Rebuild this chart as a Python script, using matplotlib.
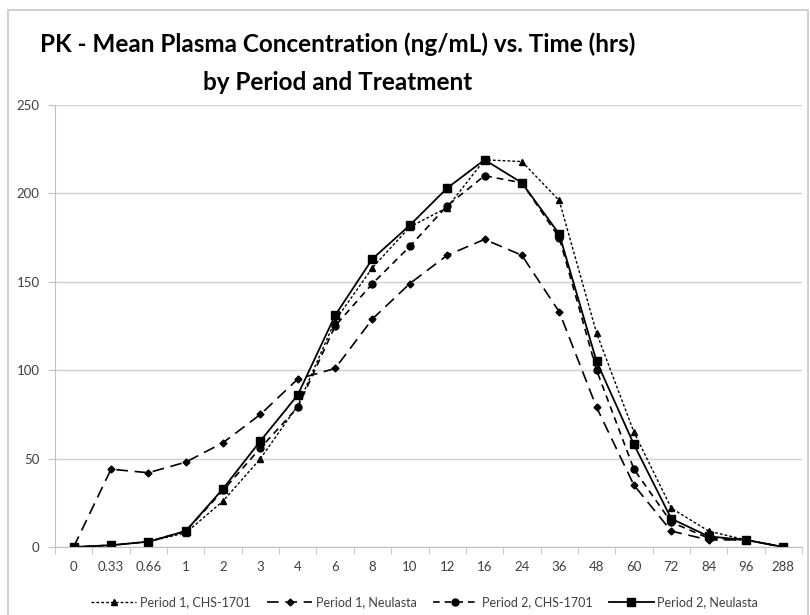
import matplotlib.pyplot as plt
import numpy as np
from matplotlib.patches import Rectangle

times = ['0', '0.33', '0.66', '1', '2', '3', '4', '6', '8', '10', '12', '16',
         '24', '36', '48', '60', '72', '84', '96', '288']
p1_chs = [0, 1, 3, 8, 26, 50, 80, 128, 158, 181, 192, 219, 218, 196, 121, 65, 22, 9, 4, 0]
p1_neu = [0, 44, 42, 48, 59, 75, 95, 101, 129, 149, 165, 174, 165, 133, 79, 35, 9, 4, 4, 0]
p2_chs = [0, 1, 3, 9, 32, 56, 79, 125, 149, 170, 193, 210, 206, 175, 100, 44, 14, 5, 4, 0]
p2_neu = [0, 1, 3, 9, 33, 60, 86, 131, 163, 182, 203, 219, 206, 177, 105, 58, 16, 6, 4, 0]

plt.rcParams['font.family'] = ['Lato', 'DejaVu Sans']

fig = plt.figure(figsize=(8.1, 6.15), dpi=100)
ax = fig.add_axes([55 / 810, 1 - 547 / 615, (802 - 55) / 810, (547 - 105) / 615])

x = np.arange(len(times))
ax.plot(x, p1_chs, color='black', lw=1.0, linestyle=(0, (2, 1.5)),
        marker='^', ms=5, label='Period 1, CHS-1701')
ax.plot(x, p1_neu, color='black', lw=1.2, linestyle=(0, (7, 4)),
        marker='D', ms=3.5, label='Period 1, Neulasta')
ax.plot(x, p2_chs, color='black', lw=1.2, linestyle=(0, (4, 3)),
        marker='o', ms=5, label='Period 2, CHS-1701')
ax.plot(x, p2_neu, color='black', lw=1.3, linestyle='-',
        marker='s', ms=6, label='Period 2, Neulasta')

ax.set_xlim(-0.5, len(times) - 0.5)
ax.set_ylim(0, 250)
ax.set_yticks([0, 50, 100, 150, 200, 250])
ax.set_xticks(x)
ax.set_xticklabels(times)
ax.set_xticks(np.arange(-0.5, len(times), 1), minor=True)
ax.tick_params(axis='x', which='major', length=0, pad=10, labelsize=9.5, labelcolor='#404040')
ax.tick_params(axis='x', which='minor', length=5, color='#bfbfbf')
ax.tick_params(axis='y', length=5, color='#bfbfbf', labelsize=9.5, labelcolor='#404040', pad=6)
ax.grid(axis='y', color='#d0d0d0', lw=1)
ax.set_axisbelow(True)
for s in ['top', 'right']:
    ax.spines[s].set_visible(False)
ax.spines['left'].set_color('#bfbfbf')
ax.spines['bottom'].set_color('#bfbfbf')

ax.legend(loc='center', bbox_to_anchor=(0.495, -0.125), ncol=4, frameon=False,
          fontsize=9, handlelength=3.6, columnspacing=1.3, handletextpad=0.3,
          labelcolor='#404040')

fig.text(338 / 810, 1 - 44 / 615, 'PK - Mean Plasma Concentration (ng/mL) vs. Time (hrs)',
         fontsize=17.5, fontweight='bold', ha='center', va='center')
fig.text(338 / 810, 1 - 83 / 615, 'by Period and Treatment',
         fontsize=17.5, fontweight='bold', ha='center', va='center')

fig.patches.append(Rectangle((8 / 810, -0.02), 800 / 810, 1 - 10 / 615 + 0.02,
                             transform=fig.transFigure, fill=False,
                             edgecolor='#c8c8c8', lw=1.2))

plt.savefig('out.png', dpi=100)
